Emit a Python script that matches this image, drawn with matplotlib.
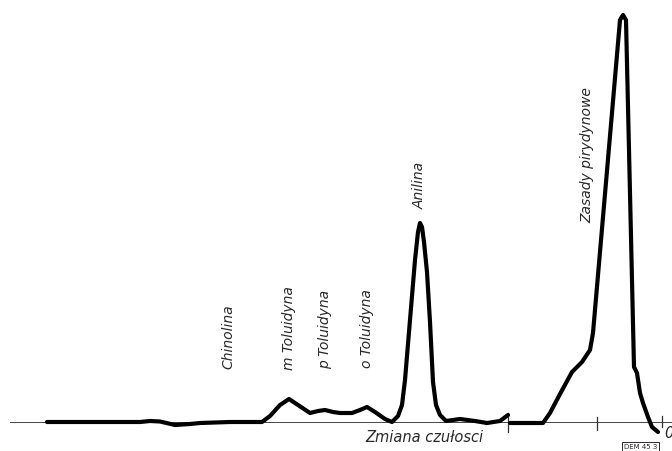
import matplotlib
matplotlib.use("Agg")
import matplotlib.pyplot as plt

# trace: position along the record vs. pen height above baseline
# part before the sensitivity change
x_before = [47, 100, 140, 150, 160, 175, 190, 200, 230, 262, 270, 280, 289, 298,
            310, 318, 325, 333, 340, 352, 360, 367, 375, 385, 392, 398, 402, 405,
            410, 415, 418, 420, 422, 424, 427, 430, 433, 436, 440, 446, 460, 475,
            487, 500, 508]
h_before = [0, 0, 0, 1, 0.5, -3, -2, -1, 0, 0, 6, 17, 23, 17,
            9, 11, 12, 10, 9, 9, 12, 15, 10, 3, 0, 6, 17, 42,
            102, 162, 190, 199, 195, 180, 150, 100, 40, 17, 7, 1, 3, 1,
            -1, 1, 7]
# part after the sensitivity change
x_after = [510, 530, 543, 550, 560, 572, 582, 590, 593, 620, 623, 626, 634,
           637, 640, 643, 648, 652, 658]
h_after = [-1, -1, -1, 9, 28, 50, 60, 72, 89, 402, 407, 402, 55,
           49, 29, 19, 5, -5, -10]

peak_labels = ["Chinolina", "m Toluidyna", "p Toluidyna", "o Toluidyna",
               "Anilina", "Zasady pirydynowe"]
peak_label_x = [228, 289, 325, 367, 420, 587]
peak_label_h = [85, 94, 93, 93, 237, 267]

tick_x = [508, 597, 662]

FONT = ["Liberation Sans Narrow", "DejaVu Sans"]
INK = "#2a2a2a"

fig = plt.figure(figsize=(6.72, 4.51), dpi=100)
ax = fig.add_axes([0, 0, 1, 1])
ax.set_xlim(0, 672)
ax.set_ylim(-29, 422)
ax.axis("off")

# thin baseline + small ticks
ax.plot([10, 672], [0, 0], color="#444444", lw=0.7)
ax.plot([tick_x[0], tick_x[0]], [-10, 9], color="#333333", lw=0.9)
ax.plot([tick_x[1], tick_x[1]], [-8, 5], color="#333333", lw=0.9)
ax.plot([tick_x[2], tick_x[2]], [-5, 6], color="#333333", lw=0.9)

# the recorded trace
for xs, hs in [(x_before, h_before), (x_after, h_after)]:
    ax.plot(xs, hs, color="black", lw=3.0, solid_capstyle="round",
            solid_joinstyle="round")

for lab, lx, lh in zip(peak_labels, peak_label_x, peak_label_h):
    ax.text(lx, lh, lab, rotation=90, ha="center", va="center",
            fontsize=10, style="italic", family=FONT, color=INK)

ax.text(424, -16, "Zmiana czułosci", ha="center", va="center",
        fontsize=10.5, style="italic", family=FONT, color=INK)
ax.text(664, -11, "0", ha="left", va="center",
        fontsize=10.5, style="italic", family=FONT, color=INK)
ax.text(624, -28, "DEM 45 3", ha="left", va="bottom", fontsize=5,
        family=FONT, color=INK,
        bbox=dict(boxstyle="square,pad=0.25", fc="white", ec=INK, lw=0.7))

fig.savefig("out.png", dpi=100)
